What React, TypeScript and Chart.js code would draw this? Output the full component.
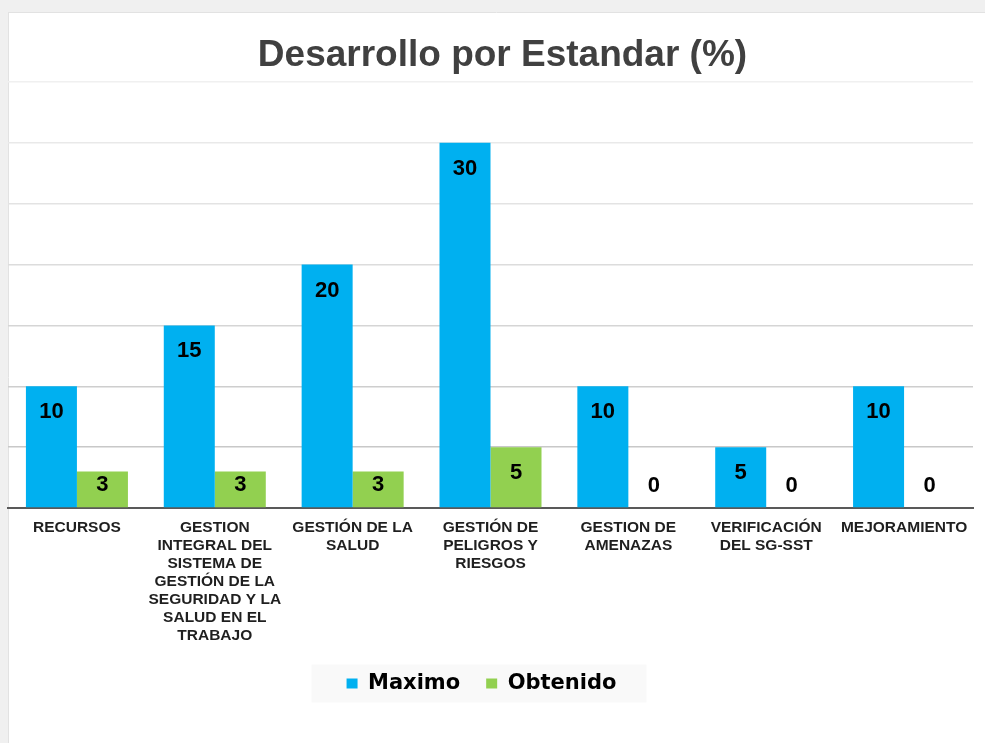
import React, { useEffect, useRef } from "react";
import { Chart, registerables } from "chart.js";

Chart.register(...registerables);

// ---- data ----
const categories: string[][] = [
  ["RECURSOS"],
  ["GESTION", "INTEGRAL DEL", "SISTEMA DE", "GESTIÓN DE LA", "SEGURIDAD Y LA", "SALUD EN EL", "TRABAJO"],
  ["GESTIÓN DE LA", "SALUD"],
  ["GESTIÓN DE", "PELIGROS Y", "RIESGOS"],
  ["GESTION DE", "AMENAZAS"],
  ["VERIFICACIÓN", "DEL SG-SST"],
  ["MEJORAMIENTO"],
];
const maximo = [10, 15, 20, 30, 10, 5, 10];
const obtenido = [3, 3, 3, 5, 0, 0, 0];
const seriesNames = ["Maximo", "Obtenido"];
const titleText = "Desarrollo por Estandar (%)";
const yMin = 0;
const yMax = 35;
const yStep = 5;

const FONT = "'Liberation Sans', Arial, sans-serif";

const gridShades: Record<number, string> = {
  35: "#f0f0f0",
  30: "#e9e9e9",
  25: "#e3e3e3",
  20: "#dcdcdc",
  15: "#d5d5d5",
  10: "#cecece",
  5: "#c8c8c8",
  0: "rgba(0,0,0,0)",
};

const framePlugin = {
  id: "frame",
  afterLayout(chart: any) {
    const lg = chart.legend;
    if (lg) {
      lg.left -= 9;
      lg.right -= 9;
    }
  },
  beforeDraw(chart: any) {
    const { ctx, width, height } = chart;
    ctx.save();
    ctx.fillStyle = "#ffffff";
    ctx.fillRect(0, 0, width, height);
    ctx.fillStyle = "#f0f0f0";
    ctx.fillRect(0, 0, width, 12);
    ctx.fillRect(0, 0, 8, height);
    ctx.strokeStyle = "#e2e2e2";
    ctx.lineWidth = 1;
    ctx.beginPath();
    ctx.moveTo(8.5, 12);
    ctx.lineTo(8.5, height);
    ctx.moveTo(8, 12.5);
    ctx.lineTo(width, 12.5);
    ctx.stroke();

    // legend background
    const lg = chart.legend;
    if (lg && lg.legendHitBoxes && lg.legendHitBoxes.length) {
      const hb = lg.legendHitBoxes;
      const first = hb[0];
      const last = hb[hb.length - 1];
      const x0 = first.left - 35;
      const x1 = last.left + last.width + 30;
      const cy = first.top + first.height / 2;
      ctx.fillStyle = "#f9f9f9";
      ctx.fillRect(x0, cy - 19, x1 - x0, 38);
    }
    ctx.restore();
  },
};

const titlePlugin = {
  id: "customTitle",
  afterDraw(chart: any) {
    const { ctx, width } = chart;
    ctx.save();
    ctx.font = `bold 37px ${FONT}`;
    ctx.fillStyle = "#404040";
    ctx.textAlign = "center";
    ctx.textBaseline = "alphabetic";
    ctx.fillText(titleText, width / 2 + 10, 66);
    ctx.restore();
  },
};

const valueLabelPlugin = {
  id: "valueLabels",
  afterDatasetsDraw(chart: any) {
    const { ctx } = chart;
    ctx.save();
    ctx.font = `bold 22px ${FONT}`;
    ctx.fillStyle = "#000000";
    ctx.textAlign = "center";
    ctx.textBaseline = "middle";
    chart.data.datasets.forEach((ds: any, di: number) => {
      const meta = chart.getDatasetMeta(di);
      meta.data.forEach((el: any, i: number) => {
        const { x, y, base } = el.getProps(["x", "y", "base"], true);
        const ty = Math.min(y + 26, base - 22.5);
        ctx.fillText(String(ds.data[i]), x, ty);
      });
    });
    ctx.restore();
  },
};

export default function App() {
  const canvasRef = useRef<HTMLCanvasElement | null>(null);

  useEffect(() => {
    if (!canvasRef.current) return;
    const chart = new Chart(canvasRef.current, {
      type: "bar",
      data: {
        labels: categories,
        datasets: [
          {
            label: seriesNames[0],
            data: maximo,
            backgroundColor: "#00B0F0",
            borderWidth: 0,
          },
          {
            label: seriesNames[1],
            data: obtenido,
            backgroundColor: "#92D050",
            borderWidth: 0,
          },
        ],
      },
      options: {
        responsive: false,
        animation: false,
        devicePixelRatio: 1,
        layout: { padding: { top: 82, left: 8, right: 12, bottom: 39 } },
        datasets: {
          bar: { categoryPercentage: 0.74, barPercentage: 1 },
        },
        scales: {
          x: {
            grid: { display: false, drawTicks: false },
            border: { display: true, color: "#595959", width: 2 },
            afterFit: (scale: any) => {
              scale.height = 139;
            },
            ticks: {
              autoSkip: false,
              maxRotation: 0,
              minRotation: 0,
              padding: 11,
              color: "#1f1f1f",
              font: { family: FONT, size: 15.5, weight: "bold", lineHeight: "18px" },
            },
          },
          y: {
            min: yMin,
            max: yMax,
            ticks: { stepSize: yStep, display: false },
            border: { display: false },
            grid: {
              drawTicks: false,
              lineWidth: 1.5,
              color: (c: any) => gridShades[c.tick?.value] ?? "#d9d9d9",
            },
          },
        },
        plugins: {
          title: { display: false },
          tooltip: { enabled: false },
          legend: {
            position: "bottom",
            labels: {
              boxWidth: 11,
              boxHeight: 10,
              padding: 26,
              color: "#000000",
              font: { family: "'DejaVu Sans', Verdana, sans-serif", size: 21, weight: "bold" },
            },
          },
        },
      } as any,
      plugins: [framePlugin, titlePlugin, valueLabelPlugin],
    });
    return () => chart.destroy();
  }, []);

  return (
    <div style={{ position: "absolute", left: 0, top: 0, width: 985, height: 743 }}>
      <canvas ref={canvasRef} width={985} height={743} style={{ display: "block" }} />
    </div>
  );
}
